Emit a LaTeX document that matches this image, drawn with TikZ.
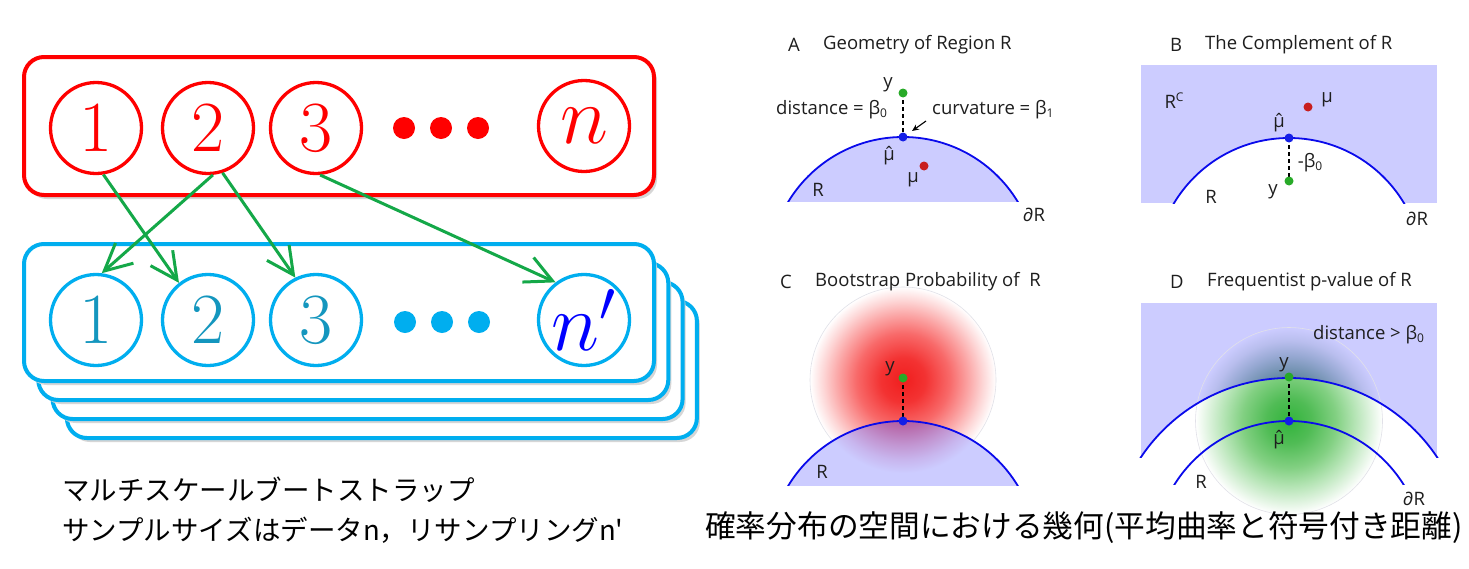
\RequirePackage{fix-cm}
\documentclass[tikz,border=0pt]{standalone}
\usepackage{fontspec}
\newfontfamily\osans{Open Sans}
\newfontfamily\jpfont{Noto Sans CJK JP}
\usetikzlibrary{arrows.meta}
\definecolor{lav}{RGB}{204,204,255}
\definecolor{arcblue}{RGB}{10,10,235}
\definecolor{cyanb}{RGB}{0,174,239}
\definecolor{tealnum}{RGB}{20,150,190}
\definecolor{garrow}{RGB}{20,168,72}
\definecolor{dotg}{RGB}{40,170,40}
\definecolor{dotr}{RGB}{200,30,30}
\definecolor{dotb}{RGB}{20,30,230}
\definecolor{txt}{RGB}{30,30,30}
\definecolor{faintc}{RGB}{225,225,232}
\definecolor{rA0}{RGB}{240,30,30}
\definecolor{rA1}{RGB}{243,50,50}
\definecolor{rA2}{RGB}{248,105,105}
\definecolor{rA3}{RGB}{251,165,165}
\definecolor{rA4}{RGB}{253,215,215}
\definecolor{pA0}{RGB}{165,40,110}
\definecolor{pA1}{RGB}{172,60,130}
\definecolor{pA2}{RGB}{183,105,170}
\definecolor{pA3}{RGB}{194,150,210}
\definecolor{pA4}{RGB}{200,182,238}
\definecolor{gA0}{RGB}{50,180,60}
\definecolor{gA1}{RGB}{80,188,85}
\definecolor{gA2}{RGB}{130,208,130}
\definecolor{gA3}{RGB}{180,228,180}
\definecolor{gA4}{RGB}{220,242,220}
\definecolor{bA0}{RGB}{40,95,110}
\definecolor{bA1}{RGB}{65,115,135}
\definecolor{bA2}{RGB}{105,140,168}
\definecolor{bA3}{RGB}{150,168,210}
\definecolor{bA4}{RGB}{185,190,238}
\pgfdeclareradialshading{redball}{\pgfpointorigin}{color(0bp)=(rA0); color(6bp)=(rA1); color(12.5bp)=(rA2); color(17.5bp)=(rA3); color(21.5bp)=(rA4); color(25bp)=(white); color(50bp)=(white)}
\pgfdeclareradialshading{redlav}{\pgfpointorigin}{color(0bp)=(pA0); color(6bp)=(pA1); color(12.5bp)=(pA2); color(17.5bp)=(pA3); color(21.5bp)=(pA4); color(25bp)=(lav); color(50bp)=(lav)}
\pgfdeclareradialshading{greenball}{\pgfpointorigin}{color(0bp)=(gA0); color(6bp)=(gA1); color(12.5bp)=(gA2); color(17.5bp)=(gA3); color(21.5bp)=(gA4); color(25bp)=(white); color(50bp)=(white)}
\pgfdeclareradialshading{greenlav}{\pgfpointorigin}{color(0bp)=(bA0); color(6bp)=(bA1); color(12.5bp)=(bA2); color(17.5bp)=(bA3); color(21.5bp)=(bA4); color(25bp)=(lav); color(50bp)=(lav)}
\newcommand{\muhat}{\ooalign{μ\cr\hidewidth ˆ\hidewidth\cr}}
\newcommand{\sbs}[1]{{\fontsize{12}{12}\selectfont\raisebox{-0.25em}{#1}}}
\newcommand{\sps}[1]{{\fontsize{12}{12}\selectfont\raisebox{0.6em}{#1}}}
\begin{document}
\begin{tikzpicture}[x=1pt,y=-1pt,
  boxshadow/.style={fill=black!16, rounded corners=20pt},
  rbox/.style={draw=red, line width=4pt, rounded corners=20pt, fill=white},
  bbox/.style={draw=cyanb, line width=4pt, rounded corners=20pt, fill=white},
  circ/.style={circle, line width=3.3pt, minimum size=91pt, inner sep=0pt, fill=white},
  rc/.style={circ, draw=red, text=red, font=\fontsize{72}{72}\selectfont},
  bc/.style={circ, draw=cyanb, text=tealnum, font=\fontsize{72}{72}\selectfont},
  nfont/.style={font=\fontsize{82}{82}\selectfont},
  garr/.style={draw=garrow, line width=3pt, -{Straight Barb[length=27pt,width=27pt]}},
  lab/.style={font=\osans\fontsize{18.5}{20}\selectfont, text=txt, inner sep=0pt},
  arcline/.style={draw=arcblue, line width=1.8pt},
  dashv/.style={draw=black, line width=1.4pt, dash pattern=on 4pt off 3pt},
  faint/.style={draw=faintc, line width=0.6pt},
  jp/.style={font=\jpfont\fontsize{27.5}{30}\selectfont, inner sep=0pt, anchor=west},
  jpb/.style={font=\jpfont\fontsize{30.7}{32}\selectfont, inner sep=0pt, anchor=west}
]
\useasboundingbox (0,0) rectangle (1469,568);
\clip (0,0) rectangle (1469,568);
\fill[white] (0,0) rectangle (1469,568);

% ---------- left: data and resamples ----------
\fill[boxshadow] (27,61) rectangle (657,199);
\draw[rbox] (24,57) rectangle (654,195);
\foreach \k in {3,2,1,0} {
  \begin{scope}[shift={(14.3*\k,19*\k)}]
    \fill[boxshadow] (27,248) rectangle (657,385);
    \draw[bbox] (24,244) rectangle (654,381);
  \end{scope}
}
\node[rc] (r1) at (96,128) {1};
\node[rc] (r2) at (208,128) {2};
\node[rc] (r3) at (316,128) {3};
\node[rc,nfont] (rn) at (584,126) {$n$};
\fill[red] (404,128) circle (11) (441,128) circle (11) (478,128) circle (11);

\node[bc] (b1) at (96,320) {1};
\node[bc] (b2) at (208,320) {2};
\node[bc] (b3) at (316,320) {3};
\node[bc,nfont,text=blue] (bn) at (584,320) {$n'$};
\fill[cyanb] (405,322) circle (11) (442,322) circle (11) (479,322) circle (11);

\draw[garr] (r1.-81) -- (b2.128);
\draw[garr] (r2.-84) -- (b1.83);
\draw[garr] (r2.-72) -- (b3.116);
\draw[garr] (r3.-85) -- (bn.127);

\node[jp] (cap1) at (62,490) {マルチスケールブートストラップ};
\node[jp] (cap2) at (62,530) {サンプルサイズはデータn，リサンプリングn'};

% ---------- panel A ----------
\begin{scope}
  \clip (770,100) rectangle (1040,201);
  \fill[lav] (903,271) circle (134);
  \draw[arcline] (903,271) circle (134);
\end{scope}
\coordinate (Ay) at (903,93);
\coordinate (Amh) at (903,137);
\draw[dashv] (Ay) -- (Amh);
\fill[dotg] (Ay) circle (4.5);
\fill[dotb] (Amh) circle (4.5);
\fill[dotr] (924,166) circle (4.5);
\node[lab, anchor=west] (Alet) at (788,45) {A};
\node[lab, anchor=west] (Atit) at (823,45) {Geometry of Region R};
\node[lab] (Aylab) at (888,85) {y};
\node[lab, anchor=west] (Adist) at (776,110) {distance = β\sbs{0}};
\node[lab, anchor=west] (Acurv) at (932,110) {curvature = β\sbs{1}};
\coordinate (Aarr) at (926,121);
\coordinate (Aarrtip) at (912,131);
\draw[black, line width=1.1pt, -{Stealth[length=7pt,width=6pt]}] (Aarr) -- (Aarrtip);
\node[lab] (Amuhat) at (889,156) {\muhat};
\node[lab] (Amu) at (913,180) {μ};
\node[lab] (AR) at (818,190) {R};
\node[lab] (AdR) at (1034,215) {∂R};

% ---------- panel B ----------
\fill[lav] (1141,65) rectangle (1437,203);
\begin{scope}
  \clip (1141,65) rectangle (1437,203);
  \fill[white] (1289,272) circle (134);
  \draw[arcline] (1289,272) circle (134);
\end{scope}
\coordinate (Bmh) at (1289,138);
\coordinate (By) at (1289,181);
\draw[dashv] (Bmh) -- (By);
\fill[dotb] (Bmh) circle (4.5);
\fill[dotg] (By) circle (4.5);
\fill[dotr] (1308,107) circle (4.5);
\node[lab, anchor=west] (Blet) at (1170,45) {B};
\node[lab, anchor=west] (Btit) at (1205,45) {The Complement of R};
\node[lab] (BRc) at (1174,101) {R\sps{C}};
\node[lab] (Bmu) at (1327,100) {μ};
\node[lab] (Bmuhat) at (1279,123) {\muhat};
\node[lab] (Bb0) at (1310,163) {-β\sbs{0}};
\node[lab] (Bylab) at (1273,192) {y};
\node[lab] (BR) at (1211,197) {R};
\node[lab] (BdR) at (1417,219) {∂R};

% ---------- panel C ----------
\shade[shading=redball] (903,380) circle (93);
\draw[faint] (903,380) circle (93);
\begin{scope}
  \clip (770,300) rectangle (1040,485);
  \fill[lav] (903,555) circle (134);
  \clip (903,555) circle (134);
  \shade[shading=redlav] (903,380) circle (93);
\end{scope}
\begin{scope}
  \clip (770,300) rectangle (1040,485);
  \draw[arcline] (903,555) circle (134);
\end{scope}
\coordinate (Cy) at (903,378);
\coordinate (Cmh) at (903,421);
\draw[dashv] (Cy) -- (Cmh);
\fill[dotg] (Cy) circle (4.5);
\fill[dotb] (Cmh) circle (4.5);
\node[lab, anchor=west] (Clet) at (780,282) {C};
\node[lab, anchor=west] (Ctit) at (815,282) {Bootstrap Probability of\ \ R};
\node[lab] (Cylab) at (890,369) {y};
\node[lab] (CR) at (822,472) {R};

% ---------- panel D ----------
\fill[lav] (1141,303) rectangle (1437,457);
\begin{scope}
  \clip (1141,303) rectangle (1437,457);
  \shade[shading=greenlav] (1289,421) circle (93.5);
\end{scope}
\begin{scope}
  \clip (1289,556) circle (178);
  \fill[white] (1289,556) circle (178);
  \shade[shading=greenball] (1289,421) circle (93.5);
\end{scope}
\draw[faint] (1289,421) circle (93.5);
\begin{scope}
  \clip (1120,290) rectangle (1460,457);
  \draw[arcline] (1289,556) circle (178);
\end{scope}
\begin{scope}
  \clip (1120,290) rectangle (1460,484);
  \draw[arcline] (1289,556) circle (135);
\end{scope}
\coordinate (Dy) at (1289,377);
\coordinate (Dmh) at (1289,421);
\draw[dashv] (Dy) -- (Dmh);
\fill[dotg] (Dy) circle (4.5);
\fill[dotb] (Dmh) circle (4.5);
\node[lab, anchor=west] (Dlet) at (1170,282) {D};
\node[lab, anchor=west] (Dtit) at (1207,282) {Frequentist p-value of R};
\node[lab, anchor=west] (Ddist) at (1313,335) {distance > β\sbs{0}};
\node[lab] (Dylab) at (1284,365) {y};
\node[lab] (Dmuhat) at (1279,440) {\muhat};
\node[lab] (DR) at (1201,482) {R};
\node[lab] (DdR) at (1414,499) {∂R};

\node[jpb] (cap3) at (705,528) {確率分布の空間における幾何(平均曲率と符号付き距離)};
\end{tikzpicture}
\end{document}
